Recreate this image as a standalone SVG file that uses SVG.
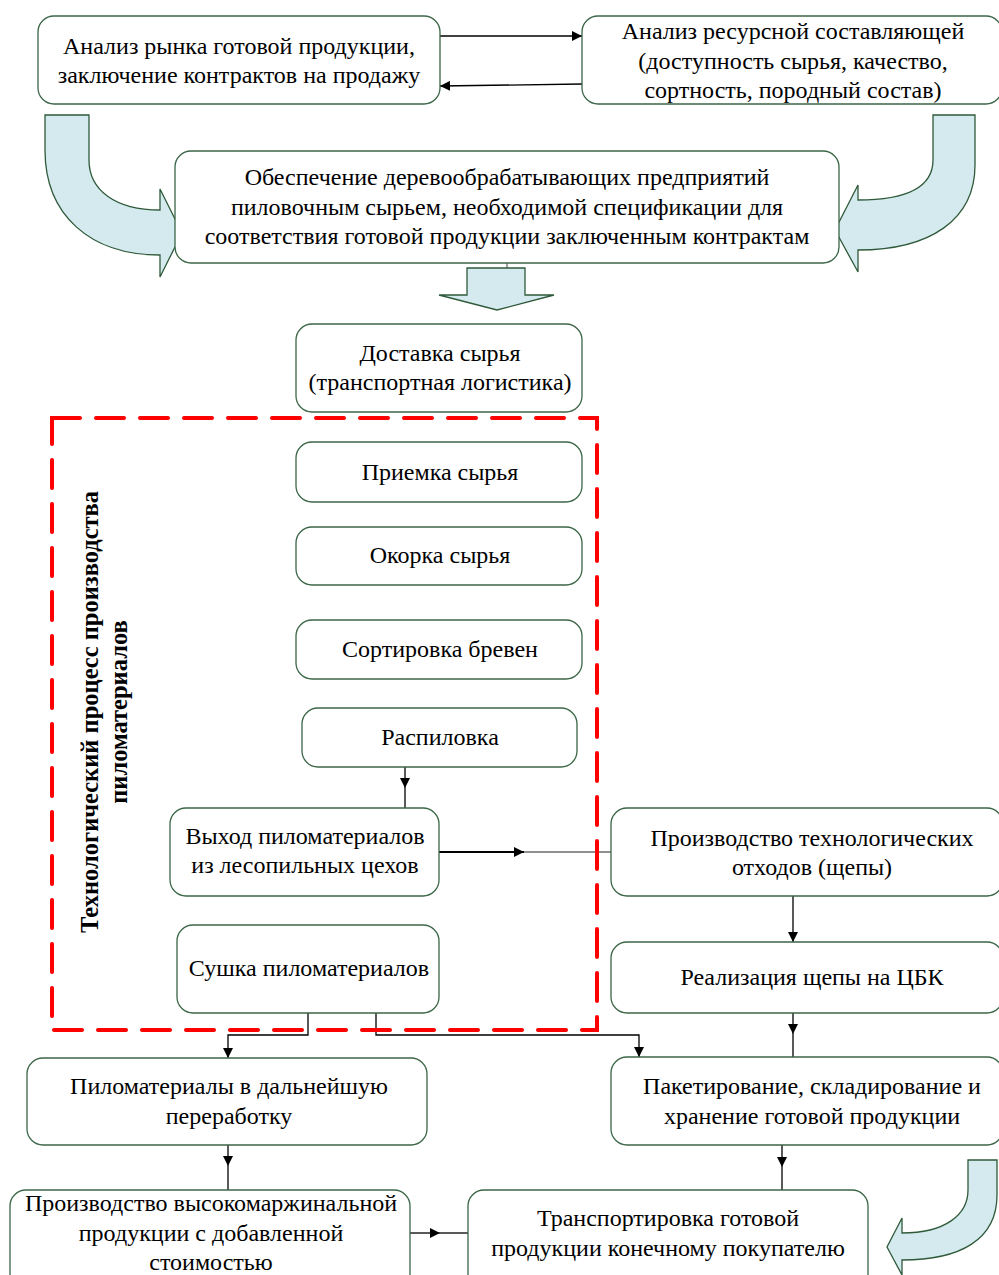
<svg xmlns="http://www.w3.org/2000/svg" width="999" height="1275" viewBox="0 0 999 1275">
<defs>
<marker id="ah" viewBox="0 0 10 10" refX="10" refY="5" markerWidth="10" markerHeight="10" markerUnits="userSpaceOnUse" orient="auto">
<path d="M0,0 L10,5 L0,10 Z" fill="#000"/>
</marker>
<style>
.box{fill:#fff;stroke:#3b6647;stroke-width:1.3}
.t{font-family:"Liberation Serif","Times New Roman",serif;font-size:24px;fill:#000;text-anchor:middle}
.tb{font-family:"Liberation Serif","Times New Roman",serif;font-size:24.5px;font-weight:bold;fill:#000;text-anchor:middle}
.big{fill:#d4eaef;stroke:#2f5a3a;stroke-width:1.3}
.c{fill:none;stroke:#000;stroke-width:1.3}
.cg{fill:none;stroke:#6b6b6b;stroke-width:1.3}
.dash{fill:none;stroke:#ff0000;stroke-width:4;stroke-dasharray:28 16;stroke-linecap:round}
</style>
</defs>
<rect width="999" height="1275" fill="#fff"/>

<g id="connectors">
<path class="c" d="M440,36 H582" marker-end="url(#ah)"/>
<path class="c" d="M582,84 L440,86" marker-end="url(#ah)"/>
<path class="cg" d="M507,263 V268"/>
<path class="c" d="M405,767 V788" marker-end="url(#ah)"/>
<path class="c" d="M405,788 V808"/>
<path d="M439,852 H524" fill="none" stroke="#000" stroke-width="2" marker-end="url(#ah)"/>
<path class="cg" d="M524,852 H611"/>
<path class="c" d="M793,896 V942" marker-end="url(#ah)"/>
<path class="c" d="M793,1013 V1034" marker-end="url(#ah)"/>
<path class="c" d="M793,1034 V1057"/>
<path class="c" d="M308,1013 V1035 H228 V1058" marker-end="url(#ah)"/>
<path class="c" d="M376,1013 V1035 H639 V1057" marker-end="url(#ah)"/>
<path class="c" d="M228,1145 V1166" marker-end="url(#ah)"/>
<path class="c" d="M228,1166 V1190"/>
<path class="c" d="M782,1145 V1167" marker-end="url(#ah)"/>
<path class="c" d="M782,1167 V1190"/>
<path class="c" d="M410,1233 H440" marker-end="url(#ah)"/>
<path class="c" d="M440,1233 H468"/>
</g>

<g id="big-arrows">
<path class="big" d="M45,115 H89 V160 C89,190 115,210 160,210 V189 L182,233 L160,277 V255 C90,255 45,215 45,150 Z"/>
<path class="big" d="M975,115 H933 V160 C933,185 910,200 858,200 V185 L835,230 L858,272 V250 C930,250 975,220 975,165 Z"/>
<path class="big" d="M467,268 H525 V295 H554 L497,310 L439,295 H467 Z"/>
<path class="big" d="M997,1160 H968 V1190 C968,1215 945,1233 902,1233 V1218 L887,1247 L902,1275 V1260 C960,1260 997,1240 997,1195 Z"/>
</g>

<g id="process-frame">
<rect class="dash" x="52" y="418" width="545" height="612"/>
<text class="tb" transform="translate(98,712) rotate(-90)">Технологический процесс производства</text>
<text class="tb" transform="translate(127,712) rotate(-90)">пиломатериалов</text>
</g>

<g id="n-market">
<rect class="box" x="38" y="16" width="402" height="88" rx="16"/>
<text class="t" x="239" y="54">Анализ рынка готовой продукции,</text>
<text class="t" x="239" y="83">заключение контрактов на продажу</text>
</g>
<g id="n-resource">
<rect class="box" x="582" y="16" width="420" height="88" rx="16"/>
<text class="t" x="793" y="39">Анализ ресурсной составляющей</text>
<text class="t" x="793" y="69">(доступность сырья, качество,</text>
<text class="t" x="793" y="98">сортность, породный состав)</text>
</g>
<g id="n-supply">
<rect class="box" x="175" y="151" width="664" height="112" rx="16"/>
<text class="t" x="507" y="185">Обеспечение деревообрабатывающих предприятий</text>
<text class="t" x="507" y="215">пиловочным сырьем, необходимой спецификации для</text>
<text class="t" x="507" y="244">соответствия готовой продукции заключенным контрактам</text>
</g>
<g id="n-delivery">
<rect class="box" x="296" y="324" width="286" height="88" rx="16"/>
<text class="t" x="440" y="361">Доставка сырья</text>
<text class="t" x="440" y="390">(транспортная логистика)</text>
</g>
<g id="n-accept">
<rect class="box" x="296" y="442" width="286" height="60" rx="16"/>
<text class="t" x="440" y="480">Приемка сырья</text>
</g>
<g id="n-debark">
<rect class="box" x="296" y="527" width="286" height="58" rx="16"/>
<text class="t" x="440" y="563">Окорка сырья</text>
</g>
<g id="n-sort">
<rect class="box" x="296" y="620" width="286" height="59" rx="16"/>
<text class="t" x="440" y="657">Сортировка бревен</text>
</g>
<g id="n-saw">
<rect class="box" x="302" y="708" width="275" height="59" rx="16"/>
<text class="t" x="440" y="745">Распиловка</text>
</g>
<g id="n-output">
<rect class="box" x="170" y="808" width="269" height="88" rx="16"/>
<text class="t" x="305" y="844">Выход пиломатериалов</text>
<text class="t" x="305" y="873">из лесопильных цехов</text>
</g>
<g id="n-dry">
<rect class="box" x="177" y="925" width="262" height="88" rx="16"/>
<text class="t" x="309" y="976">Сушка пиломатериалов</text>
</g>
<g id="n-chips">
<rect class="box" x="611" y="808" width="392" height="88" rx="16"/>
<text class="t" x="812" y="846">Производство технологических</text>
<text class="t" x="812" y="875">отходов (щепы)</text>
</g>
<g id="n-sell-chips">
<rect class="box" x="611" y="942" width="392" height="71" rx="16"/>
<text class="t" x="812" y="985">Реализация щепы на ЦБК</text>
</g>
<g id="n-pack">
<rect class="box" x="611" y="1057" width="392" height="88" rx="16"/>
<text class="t" x="812" y="1094">Пакетирование, складирование и</text>
<text class="t" x="812" y="1124">хранение готовой продукции</text>
</g>
<g id="n-further">
<rect class="box" x="27" y="1058" width="400" height="87" rx="16"/>
<text class="t" x="229" y="1094">Пиломатериалы в дальнейшую</text>
<text class="t" x="229" y="1124">переработку</text>
</g>
<g id="n-highmargin">
<rect class="box" x="10" y="1190" width="400" height="100" rx="16"/>
<text class="t" x="211" y="1211">Производство высокомаржинальной</text>
<text class="t" x="211" y="1241">продукции с добавленной</text>
<text class="t" x="211" y="1270">стоимостью</text>
</g>
<g id="n-transport">
<rect class="box" x="468" y="1190" width="400" height="100" rx="16"/>
<text class="t" x="668" y="1226">Транспортировка готовой</text>
<text class="t" x="668" y="1256">продукции конечному покупателю</text>
</g>
</svg>
